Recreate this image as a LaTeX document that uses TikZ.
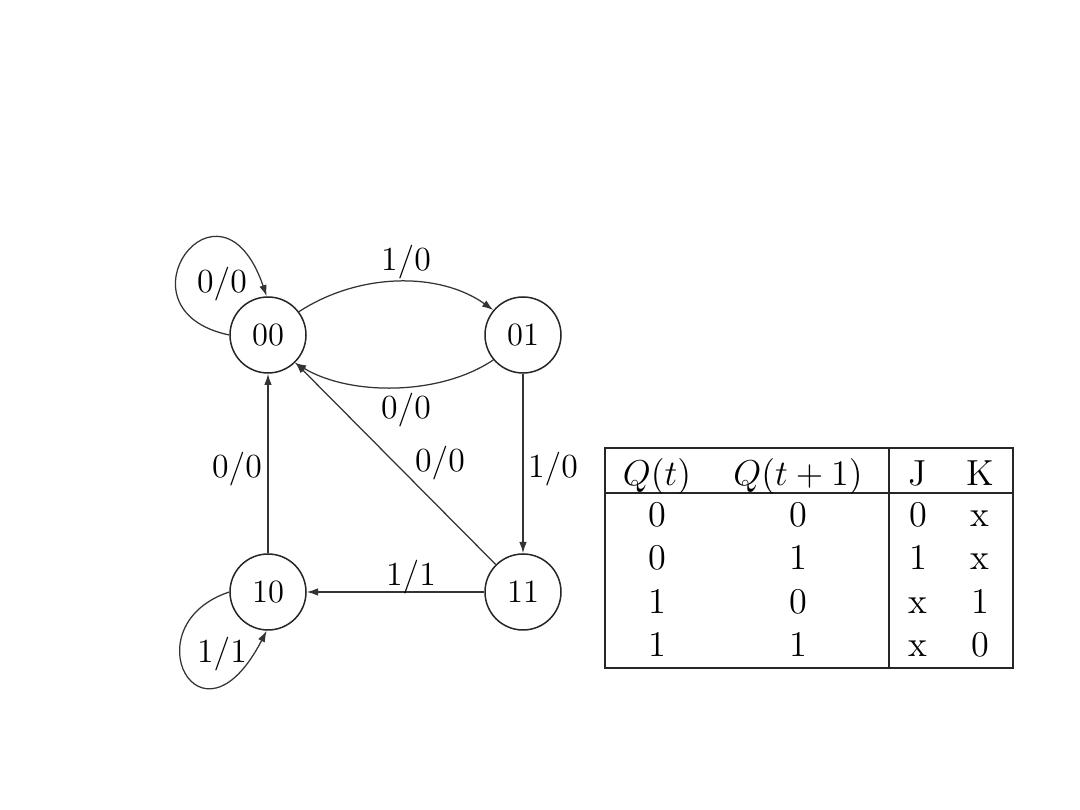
\documentclass[tikz,border=0pt]{standalone}
\usetikzlibrary{arrows.meta}
\begin{document}
\begin{tikzpicture}[x=0.4pt,y=-0.4pt,
  state/.style={circle,draw=black!85,line width=0.6pt,minimum size=30.4pt,inner sep=0pt,font=\fontsize{13}{15}\selectfont},
  edge/.style={draw=black!80,line width=0.5pt,-{Latex[length=4.5pt,width=3pt]}},
  lbl/.style={font=\fontsize{13.5}{15}\selectfont,inner sep=1pt},
  cell/.style={font=\fontsize{14.5}{16}\selectfont,inner sep=0pt,anchor=base},
  rulethin/.style={draw=black!85,line width=0.6pt},
  rulethick/.style={draw=black!85,line width=0.9pt}]
\useasboundingbox (0,0) rectangle (1080,810);

% states
\node[state] (n00) at (268,335) {00};
\node[state] (n01) at (523,335) {01};
\node[state] (n10) at (268,592) {10};
\node[state] (n11) at (523,592) {11};

% transitions
\draw[edge] (n00.37) .. controls (360,272) and (440,272) .. (n01.140);
\draw[edge] (n01.220) .. controls (440,396) and (350,396) .. (n00.314);
\draw[edge] (n00.180) .. controls (110,310) and (220,160) .. (n00.92);
\draw[edge] (n10) -- (n00);
\draw[edge] (n11) -- (n00);
\draw[edge] (n01) -- (n11);
\draw[edge] (n11) -- (n10);
\draw[edge] (n10.180) .. controls (130,625) and (200,760) .. (n10.268);

% labels
\node[lbl] (l1) at (406,262) {1/0};
\node[lbl] (l2) at (406,410) {0/0};
\node[lbl] (l3) at (222,284) {0/0};
\node[lbl] (l4) at (237,469) {0/0};
\node[lbl] (l5) at (440,463) {0/0};
\node[lbl] (l6) at (553,469) {1/0};
\node[lbl] (l7) at (411,577) {1/1};
\node[lbl] (l8) at (222,654) {1/1};

% table
\draw[rulethin] (605,448) rectangle (1013,668);
\draw[rulethick] (605,493) -- (1013,493);
\draw[rulethin] (889,448) -- (889,668);

\node[cell] (h1) at (657,486) {$Q(t)$};
\node[cell] (h2) at (798,486) {$Q(t+1)$};
\node[cell] (h3) at (918,486) {J};
\node[cell] (h4) at (980,486) {K};

\node[cell] (a1) at (657,527) {0};
\node[cell] (a2) at (798,527) {0};
\node[cell] (a3) at (918,527) {0};
\node[cell] (a4) at (980,527) {x};

\node[cell] (b1) at (657,570) {0};
\node[cell] (b2) at (798,570) {1};
\node[cell] (b3) at (918,570) {1};
\node[cell] (b4) at (980,570) {x};

\node[cell] (c1) at (657,614) {1};
\node[cell] (c2) at (798,614) {0};
\node[cell] (c3) at (918,614) {x};
\node[cell] (c4) at (980,614) {1};

\node[cell] (d1) at (657,657) {1};
\node[cell] (d2) at (798,657) {1};
\node[cell] (d3) at (918,657) {x};
\node[cell] (d4) at (980,657) {0};
\end{tikzpicture}
\end{document}
